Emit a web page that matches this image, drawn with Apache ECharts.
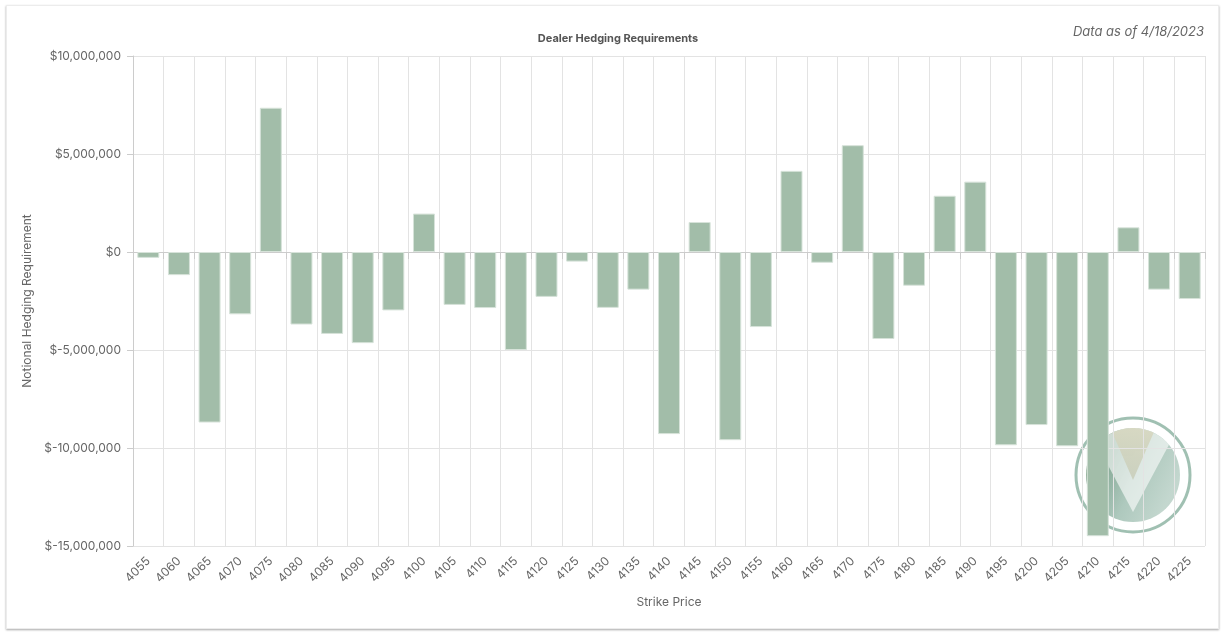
<!DOCTYPE html>
<html>
<head>
<meta charset="utf-8">
<script src="https://cdn.jsdelivr.net/npm/echarts@6/dist/echarts.min.js"></script>
<style>
html,body{margin:0;padding:0;background:#fff;width:1226px;height:635px;overflow:hidden;}
#card{position:absolute;left:6px;top:5px;width:1211px;height:622px;border:1px solid #ececec;box-shadow:0 1px 2px rgba(0,0,0,0.35);background:#fff;}
#chart{position:absolute;left:0;top:0;width:1226px;height:635px;}
</style>
</head>
<body>
<div id="card"></div>
<div id="chart"></div>
<script>
const strikes = ['4055','4060','4065','4070','4075','4080','4085','4090','4095','4100','4105','4110','4115','4120','4125','4130','4135','4140','4145','4150','4155','4160','4165','4170','4175','4180','4185','4190','4195','4200','4205','4210','4215','4220','4225'];
const hedging = [-300000,-1180000,-8700000,-3180000,7360000,-3700000,-4180000,-4650000,-2980000,1960000,-2700000,-2860000,-5000000,-2290000,-490000,-2850000,-1920000,-9290000,1530000,-9600000,-3830000,4140000,-550000,5450000,-4440000,-1720000,2870000,3590000,-9860000,-8830000,-9910000,-14500000,1260000,-1920000,-2400000];
const yTicks = {min:-15000000, max:10000000, step:5000000};
const titleText = 'Dealer Hedging Requirements';
const dateText = 'Data as of 4/18/2023';
const yName = 'Notional Hedging Requirement';
const xName = 'Strike Price';

const FONT = 'Inter, "Open Sans", sans-serif';
function money(v){
  const s = Math.abs(v).toString().replace(/\B(?=(\d{3})+(?!\d))/g, ',');
  return '$' + (v < 0 ? '-' : '') + s;
}

// watermark logo geometry
const cx = 1133, cy = 475, rIn = 47, rRing = 57;
function lineCircle(px, py, dx, dy, r){
  const fx = px - cx, fy = py - cy;
  const a = dx*dx + dy*dy, b = 2*(fx*dx + fy*dy), c = fx*fx + fy*fy - r*r;
  const t = (-b + Math.sqrt(b*b - 4*a*c)) / (2*a);
  return [px + t*dx, py + t*dy];
}
function arcPts(p1, p2, r, n){
  let a1 = Math.atan2(p1[1]-cy, p1[0]-cx), a2 = Math.atan2(p2[1]-cy, p2[0]-cx);
  if (a2 < a1) a2 += Math.PI*2;
  const pts = [];
  for (let i = 0; i <= n; i++){ const a = a1 + (a2-a1)*i/n; pts.push([cx + r*Math.cos(a), cy + r*Math.sin(a)]); }
  return pts;
}
function wedge(vx, vy, ldx, ldy, r){
  const L = lineCircle(vx, vy, ldx, ldy, r);
  const R = lineCircle(vx, vy, -ldx, ldy, r);
  return [[vx, vy]].concat(arcPts(L, R, r, 24));
}
const whiteWedge = wedge(cx, 512, -0.47, -0.88, rIn);
const beige = wedge(cx, 480, -0.401, -0.916, rIn);

const chart = echarts.init(document.getElementById('chart'));
chart.setOption({
  backgroundColor: 'transparent',
  animation: false,
  textStyle: {fontFamily: FONT},
  title: [
    {text: titleText, left: 613, top: 28, textAlign: 'center',
     textStyle: {fontSize: 11, fontWeight: 'bold', color: '#555', fontFamily: FONT}},
    {text: dateText, right: 17, top: 21,
     textStyle: {fontSize: 13, fontWeight: 'normal', fontStyle: 'italic', color: '#666', fontFamily: FONT}}
  ],
  grid: {left: 133, right: 21, top: 56, bottom: 89, containLabel: false},
  xAxis: {
    type: 'category', data: strikes,
    name: xName, nameLocation: 'middle', nameGap: 50,
    nameTextStyle: {fontSize: 12, color: '#666', fontFamily: FONT},
    axisLine: {show: true, lineStyle: {color: '#ccc'}},
    axisTick: {show: true, alignWithLabel: false, length: 7, lineStyle: {color: '#ccc'}},
    axisLabel: {interval: 0, rotate: 45, fontSize: 12, color: '#666', margin: 13, fontFamily: FONT},
    splitLine: {show: true, interval: 0, lineStyle: {color: '#e3e3e3'}}
  },
  yAxis: {
    type: 'value', min: yTicks.min, max: yTicks.max, interval: yTicks.step,
    name: yName, nameLocation: 'middle', nameGap: 94, nameRotate: 90,
    nameTextStyle: {fontSize: 12, color: '#666', fontFamily: FONT},
    axisLine: {show: true, lineStyle: {color: '#ccc'}},
    axisTick: {show: true, length: 6, lineStyle: {color: '#ccc'}},
    axisLabel: {formatter: money, fontSize: 12, color: '#666', margin: 12, fontFamily: FONT},
    splitLine: {show: true, lineStyle: {color: '#e3e3e3'}}
  },
  series: [{
    type: 'bar', data: hedging, barWidth: 22,
    itemStyle: {color: '#a2bda9', borderColor: '#d7e3da', borderWidth: 1}
  }],
  graphic: [
    {type: 'group', z: 100, silent: true, children: [
      {type: 'circle', shape: {cx: cx, cy: cy, r: rRing}, style: {fill: 'none', stroke: 'rgba(120,165,145,0.7)', lineWidth: 3}},
      {type: 'circle', shape: {cx: cx, cy: cy, r: rIn}, style: {
        fill: new echarts.graphic.LinearGradient(0, 0, 1, 0.5, [
          {offset: 0, color: 'rgba(110,140,100,0.75)'},
          {offset: 0.3, color: 'rgba(90,138,112,0.75)'},
          {offset: 0.65, color: 'rgba(140,178,162,0.7)'},
          {offset: 1, color: 'rgba(170,198,186,0.7)'}
        ])}},
      {type: 'polygon', shape: {points: whiteWedge}, style: {fill: 'rgba(255,255,255,0.6)'}},
      {type: 'polygon', shape: {points: beige}, style: {
        fill: new echarts.graphic.LinearGradient(0, 0, 0, 1, [
          {offset: 0, color: 'rgba(215,215,192,0.9)'},
          {offset: 1, color: 'rgba(200,205,185,0.85)'}
        ])}}
    ]}
  ]
});
</script>
</body>
</html>
